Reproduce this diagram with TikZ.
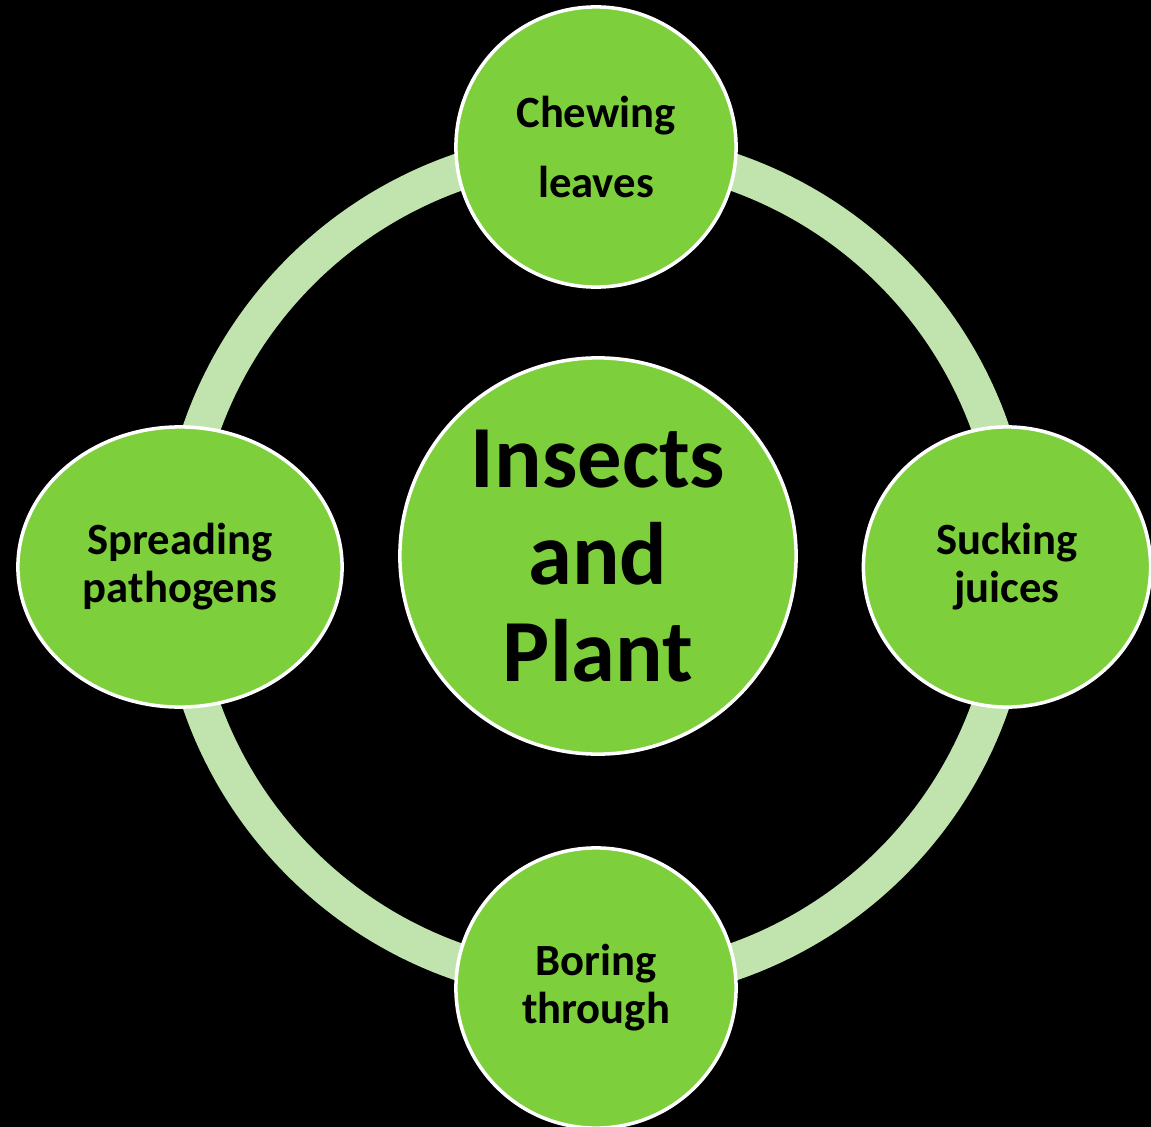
\documentclass[tikz,border=0pt]{standalone}
\usepackage{fontspec}
\setmainfont{Carlito}
\usetikzlibrary{shapes.geometric}
\definecolor{leafgreen}{RGB}{125,207,60}
\definecolor{ringgreen}{RGB}{193,228,175}
\begin{document}
\begin{tikzpicture}[x=0.01cm, y=-0.01cm, ring/.style={draw=ringgreen, line width=0.37cm}, bubble/.style={ellipse, fill=leafgreen, draw=white, line width=1pt, inner sep=0pt, align=center, text=black, font=\fontsize{12.7}{13.7}\selectfont\bfseries}, hub/.style={bubble, circle, minimum size=3.96cm, font=\fontsize{25.2}{27.6}\selectfont\bfseries}]
	\useasboundingbox (0,0) rectangle (1151,1127);
	\fill[black] (0,0) rectangle (1151,1127);
	\draw[ring] (596,567) circle (418);
	\node[hub] (insects) at (598,556) {Insects\\and\\Plant};
	\node[bubble, minimum width=2.8cm, minimum height=2.8cm, font=\fontsize{12.7}{20}\selectfont\bfseries] (chewing) at (596,147) {Chewing\\leaves};
	\node[bubble, minimum width=2.87cm, minimum height=2.8cm] (sucking) at (1007,567) {Sucking\\juices};
	\node[bubble, minimum width=2.8cm, minimum height=2.8cm] (boring) at (596,988) {Boring\\through};
	\node[bubble, minimum width=3.24cm, minimum height=2.8cm] (spreading) at (180,567) {Spreading\\pathogens};
\end{tikzpicture}
\end{document}
